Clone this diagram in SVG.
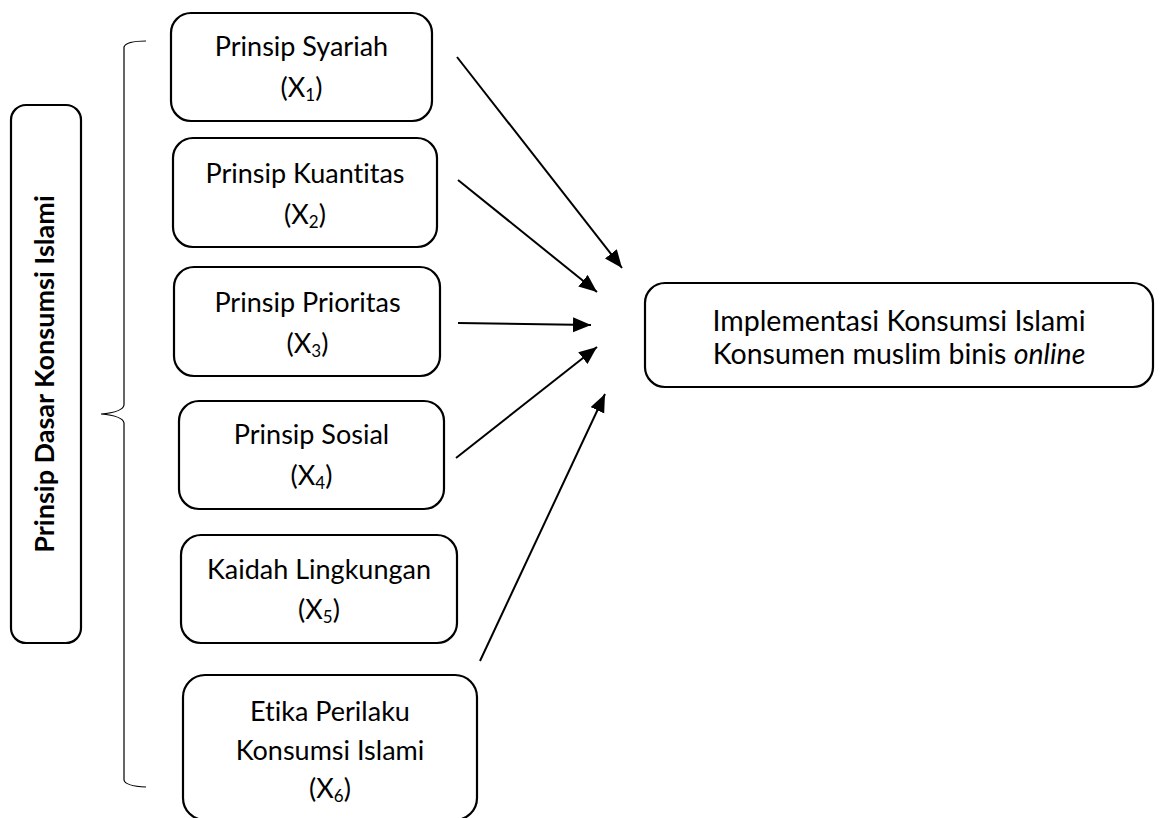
<svg xmlns="http://www.w3.org/2000/svg" width="1169" height="818" viewBox="0 0 1169 818">
<style>
.box{fill:#fff;stroke:#000;stroke-width:2.2}
.t{font-family:Lato,"Liberation Sans",sans-serif;font-size:27px;fill:#000;text-anchor:middle;font-variant-ligatures:none}
.b{font-weight:bold;font-size:27px}
.r{font-size:28.5px}
.sub{font-size:17px}
.c{stroke:#000;stroke-width:2;fill:none}
.br{stroke:#000;stroke-width:1.2;fill:none}
</style>
<defs>
<marker id="ah" markerUnits="userSpaceOnUse" markerWidth="20" markerHeight="16" refX="18" refY="7.5" orient="auto">
<path d="M0,0 L18,7.5 L0,15 Z" fill="#000"/>
</marker>
</defs>
<rect width="1169" height="818" fill="#fff"/>
<g id="group-label">
<rect class="box" x="11" y="105" width="70" height="538" rx="15"/>
<text class="t b" transform="translate(54,374) rotate(-90)">Prinsip Dasar Konsumsi Islami</text>
</g>
<g id="bracket">
<path class="br" d="M146,41 Q126,41 124,47 L124,405 Q123,412 101,414 Q123,416 124,423 L124,780 Q125,786 146,787"/>
</g>
<g id="x1">
<rect class="box" x="171" y="13" width="261" height="108" rx="20"/>
<text class="t" x="301.5" y="56">Prinsip Syariah</text>
<text class="t" x="301.5" y="97">(X<tspan class="sub" dy="4">1</tspan><tspan dy="-4">)</tspan></text>
</g>
<g id="x2">
<rect class="box" x="173" y="138" width="264" height="109" rx="20"/>
<text class="t" x="305" y="183">Prinsip Kuantitas</text>
<text class="t" x="305" y="224">(X<tspan class="sub" dy="4">2</tspan><tspan dy="-4">)</tspan></text>
</g>
<g id="x3">
<rect class="box" x="174" y="267" width="266" height="109" rx="20"/>
<text class="t" x="307.5" y="312">Prinsip Prioritas</text>
<text class="t" x="307.5" y="353">(X<tspan class="sub" dy="4">3</tspan><tspan dy="-4">)</tspan></text>
</g>
<g id="x4">
<rect class="box" x="179" y="401" width="265" height="108" rx="20"/>
<text class="t" x="311.5" y="444">Prinsip Sosial</text>
<text class="t" x="311.5" y="485">(X<tspan class="sub" dy="4">4</tspan><tspan dy="-4">)</tspan></text>
</g>
<g id="x5">
<rect class="box" x="181" y="535" width="276" height="108" rx="20"/>
<text class="t" x="319" y="579">Kaidah Lingkungan</text>
<text class="t" x="319" y="619">(X<tspan class="sub" dy="4">5</tspan><tspan dy="-4">)</tspan></text>
</g>
<g id="x6">
<rect class="box" x="183" y="675" width="294" height="145" rx="22"/>
<text class="t" x="330" y="721">Etika Perilaku</text>
<text class="t" x="330" y="760">Konsumsi Islami</text>
<text class="t" x="330" y="798">(X<tspan class="sub" dy="4">6</tspan><tspan dy="-4">)</tspan></text>
</g>
<g id="y">
<rect class="box" x="645" y="283" width="508" height="104" rx="20"/>
<text class="t r" x="899" y="331">Implementasi Konsumsi Islami</text>
<text class="t r" x="899" y="364">Konsumen muslim binis <tspan font-style="italic">online</tspan></text>
</g>
<g id="connectors">
<line class="c" x1="457" y1="57" x2="622" y2="268" marker-end="url(#ah)"/>
<line class="c" x1="458" y1="180" x2="597" y2="292" marker-end="url(#ah)"/>
<line class="c" x1="458" y1="323" x2="591" y2="325" marker-end="url(#ah)"/>
<line class="c" x1="456" y1="458" x2="597" y2="347" marker-end="url(#ah)"/>
<line class="c" x1="480" y1="661" x2="605" y2="394" marker-end="url(#ah)"/>
</g>
</svg>
